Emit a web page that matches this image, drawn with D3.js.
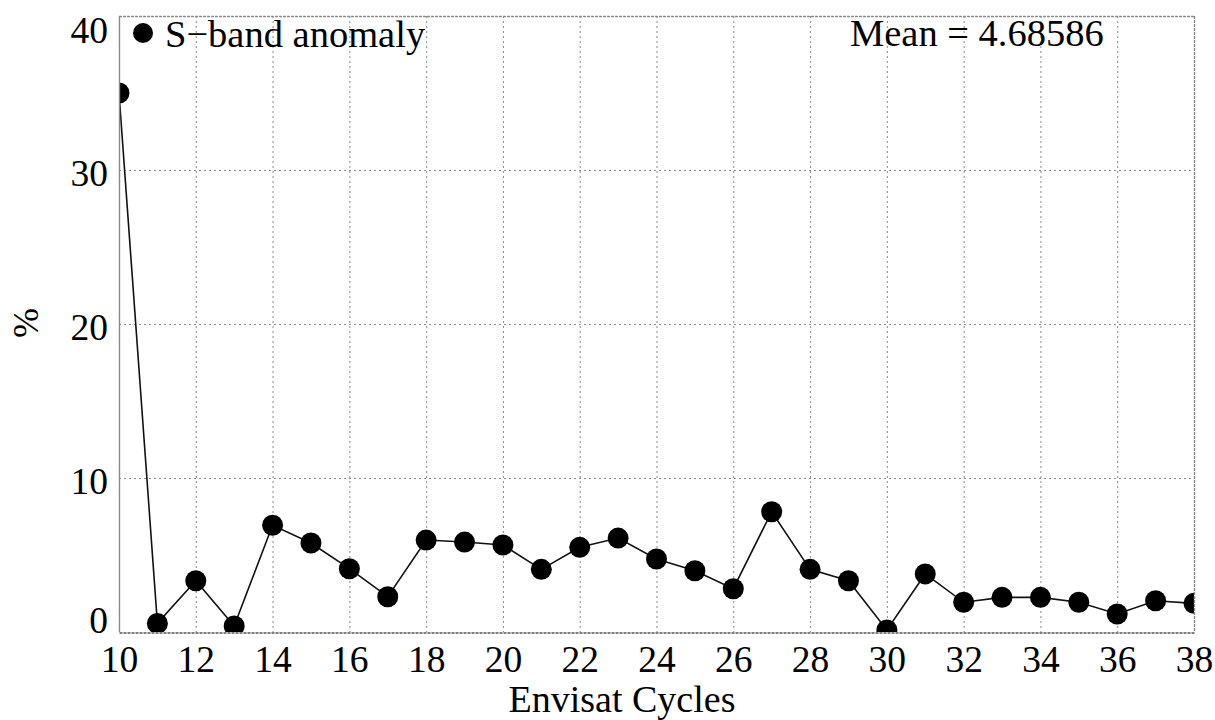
<!DOCTYPE html>
<html>
<head>
<meta charset="utf-8">
<script src="https://cdn.jsdelivr.net/npm/d3@7"></script>
<style>
  html, body { margin: 0; padding: 0; background: #fff; }
  svg { display: block; }
  svg text { font-family: "Liberation Serif", "Times New Roman", Tinos, Times, "DejaVu Serif", serif !important; }
</style>
</head>
<body>
<svg id="chart" width="1215" height="720"></svg>
<script>
// Envisat cycle number
const cycles = [10, 11, 12, 13, 14, 15, 16, 17, 18, 19, 20, 21, 22, 23, 24,
                25, 26, 27, 28, 29, 30, 31, 32, 33, 34, 35, 36, 37, 38];
// S-band anomaly percentage per cycle
const anomaly = [35.0, 0.56, 3.33, 0.39, 6.93, 5.78, 4.11, 2.29, 5.97, 5.84, 5.65,
                 4.07, 5.5, 6.1, 4.74, 3.98, 2.81, 7.81, 4.07, 3.33, 0.13, 3.77,
                 1.93, 2.25, 2.25, 1.93, 1.17, 2.03, 1.86];
const xTicks = [10, 12, 14, 16, 18, 20, 22, 24, 26, 28, 30, 32, 34, 36, 38];
const yTicks = [0, 10, 20, 30, 40];
const seriesName = "S\u2212band anomaly";
const meanLabel = "Mean = 4.68586";
const xTitle = "Envisat Cycles";
const yTitle = "%";

const svg = d3.select("#chart");
const plotL = 119, plotR = 1194, plotT = 16, plotB = 632;

const x = d3.scaleLinear().domain([10, 38]).range([plotL, plotR]);
const y = d3.scaleLinear().domain([0, 40]).range([plotB, plotT]);

// Dotted grid
const grid = svg.append("g").attr("stroke", "#8a8a8a").attr("stroke-width", 1)
  .attr("stroke-dasharray", "2,3").attr("fill", "none");
grid.selectAll("line.v").data(xTicks.filter(d => d > 10 && d < 38)).join("line")
  .attr("class", "v")
  .attr("x1", d => x(d) + 0.5).attr("x2", d => x(d) + 0.5)
  .attr("y1", plotT).attr("y2", plotB);
grid.selectAll("line.h").data(yTicks.filter(d => d > 0 && d < 40)).join("line")
  .attr("class", "h")
  .attr("x1", plotL).attr("x2", plotR)
  .attr("y1", d => y(d) + 0.5).attr("y2", d => y(d) + 0.5);

// Clip for data marks
svg.append("defs").append("clipPath").attr("id", "plot-clip")
  .append("rect").attr("x", plotL).attr("y", plotT)
  .attr("width", plotR - plotL).attr("height", plotB - plotT);

const plot = svg.append("g").attr("clip-path", "url(#plot-clip)");
const line = d3.line().x((d, i) => x(cycles[i])).y(d => y(d));
plot.append("path").datum(anomaly)
  .attr("d", line).attr("fill", "none")
  .attr("stroke", "#111").attr("stroke-width", 1.6);
plot.selectAll("circle").data(anomaly).join("circle")
  .attr("cx", (d, i) => x(cycles[i])).attr("cy", d => y(d))
  .attr("r", 10.5).attr("fill", "#000");

// Frame
const frame = svg.append("g").attr("fill", "none");
frame.append("line").attr("x1", plotL).attr("x2", plotR).attr("y1", plotT + 0.5).attr("y2", plotT + 0.5)
  .attr("stroke", "#8a8a8a").attr("stroke-width", 1.4).attr("stroke-dasharray", "3,1");
frame.append("line").attr("x1", plotR + 0.5).attr("x2", plotR + 0.5).attr("y1", plotT).attr("y2", plotB)
  .attr("stroke", "#8a8a8a").attr("stroke-width", 1.4).attr("stroke-dasharray", "3,1");
frame.append("line").attr("x1", plotL + 0.5).attr("x2", plotL + 0.5).attr("y1", plotT).attr("y2", plotB)
  .attr("stroke", "#8a8a8a").attr("stroke-width", 1.4);

// Axes
const xAxis = svg.append("g").attr("transform", `translate(0,${plotB + 0.5})`)
  .call(d3.axisBottom(x).tickValues(xTicks).tickFormat(d3.format("d")).tickSize(0).tickPadding(13));
xAxis.attr("font-family", null);
xAxis.select(".domain").attr("stroke", "#555").attr("stroke-width", 1.4).attr("stroke-dasharray", "3,1");
xAxis.selectAll("text").attr("font-size", 37.5).attr("fill", "#000");

const yAxis = svg.append("g").attr("transform", `translate(${plotL},0)`)
  .call(d3.axisLeft(y).tickValues(yTicks).tickFormat(d3.format("d")).tickSize(0).tickPadding(11));
yAxis.attr("font-family", null);
yAxis.select(".domain").remove();
yAxis.selectAll("text").attr("font-size", 37.5).attr("fill", "#000")
  .attr("dy", d => d === 0 ? "0.0em" : d === 40 ? "0.7em" : "0.4em");

// Axis titles
svg.append("text").attr("x", 622).attr("y", 712).attr("text-anchor", "middle")
  .attr("font-size", 38).text(xTitle);
svg.append("text").attr("transform", "translate(38,323) rotate(-90)")
  .attr("text-anchor", "middle").attr("font-size", 36).text(yTitle);

// Legend and mean annotation
svg.append("circle").attr("cx", 143).attr("cy", 33).attr("r", 10).attr("fill", "#000");
svg.append("text").attr("x", 165).attr("y", 47).attr("font-size", 38.5).text(seriesName);
svg.append("text").attr("x", 850).attr("y", 46).attr("font-size", 38.5).text(meanLabel);
</script>
</body>
</html>
